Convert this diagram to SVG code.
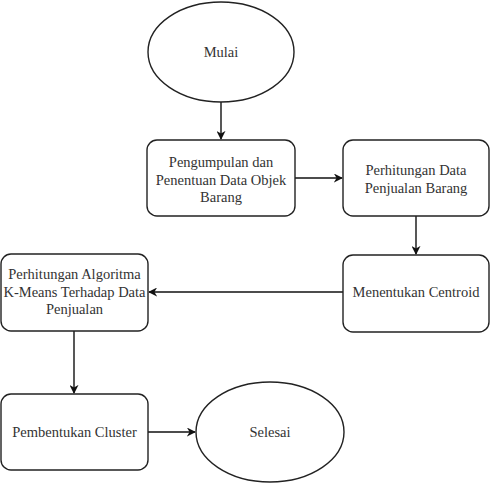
<svg xmlns="http://www.w3.org/2000/svg" width="491" height="485" viewBox="0 0 491 485">
<defs>
<style>
.s{fill:#fff;stroke:#222;stroke-width:1.4}
.t{font-family:"Liberation Serif","Times New Roman",serif;font-size:14.5px;fill:#333;text-anchor:middle}
.c{fill:none;stroke:#111;stroke-width:1.4}
</style>
<marker id="a" viewBox="0 0 10 10" refX="9" refY="5" markerWidth="9" markerHeight="9" markerUnits="userSpaceOnUse" orient="auto">
<path d="M0,0 L10,5 L0,10 L3,5 Z" fill="#111"/>
</marker>
</defs>
<rect width="491" height="485" fill="#fff"/>
<g id="connectors">
<path class="c" d="M221,102 V139" marker-end="url(#a)"/>
<path class="c" d="M295,178 H342" marker-end="url(#a)"/>
<path class="c" d="M416,216 V254" marker-end="url(#a)"/>
<path class="c" d="M343,292 H149" marker-end="url(#a)"/>
<path class="c" d="M74,331 V393" marker-end="url(#a)"/>
<path class="c" d="M148,432 H195" marker-end="url(#a)"/>
</g>
<g id="mulai">
<ellipse class="s" cx="221" cy="52" rx="73" ry="50"/>
<text class="t" x="221" y="57">Mulai</text>
</g>
<g id="pengumpulan">
<rect class="s" x="147" y="140" width="148" height="76" rx="10"/>
<text class="t" x="221" y="167">Pengumpulan dan</text>
<text class="t" x="221" y="184.5">Penentuan Data Objek</text>
<text class="t" x="221" y="202">Barang</text>
</g>
<g id="perhitungan-data">
<rect class="s" x="343" y="140" width="146" height="76" rx="10"/>
<text class="t" x="416" y="175">Perhitungan Data</text>
<text class="t" x="416" y="193">Penjualan Barang</text>
</g>
<g id="centroid">
<rect class="s" x="343" y="255" width="146" height="77" rx="10"/>
<text class="t" x="416" y="297">Menentukan Centroid</text>
</g>
<g id="kmeans">
<rect class="s" x="1" y="254" width="147" height="77" rx="10"/>
<text class="t" x="74.5" y="279">Perhitungan Algoritma</text>
<text class="t" x="74.5" y="297">K-Means Terhadap Data</text>
<text class="t" x="74.5" y="314">Penjualan</text>
</g>
<g id="cluster">
<rect class="s" x="1" y="394" width="147" height="76" rx="10"/>
<text class="t" x="74.5" y="437">Pembentukan Cluster</text>
</g>
<g id="selesai">
<ellipse class="s" cx="270" cy="432" rx="74" ry="50"/>
<text class="t" x="270" y="437">Selesai</text>
</g>
</svg>
